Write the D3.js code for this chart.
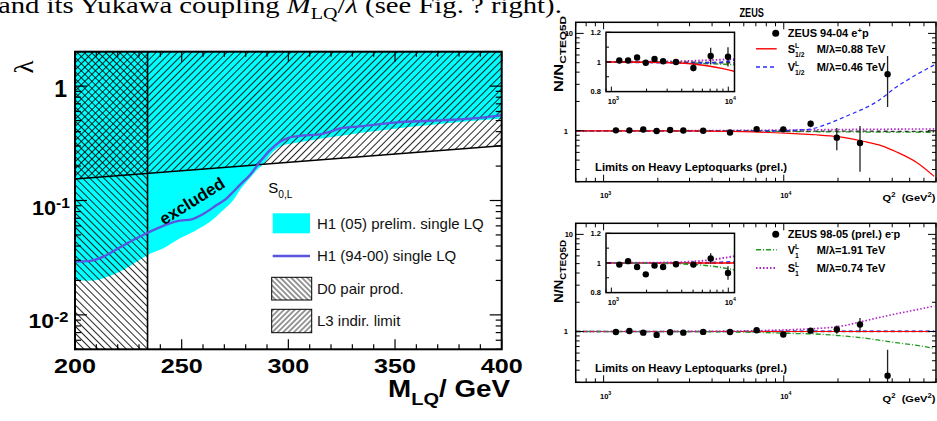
<!DOCTYPE html>
<html><head><meta charset="utf-8">
<script src="https://cdn.jsdelivr.net/npm/d3@7"></script>
<style>html,body{margin:0;padding:0;background:#fff;overflow:hidden}svg{display:block}</style>
</head><body>
<svg id="c" width="937" height="421"></svg>
<script>
// ---------------- LEFT PANEL DATA ----------------
const massTicks = [200, 250, 300, 350, 400];
const lambdaMajor = [0.01, 0.1, 1];
// H1 (05) prelim. single LQ : lower edge of excluded (cyan) region
const h1PrelimMass   = [200,207,213.3,221.1,228.9,234.1,241.4,249.2,257,263.3,269.5,274.2,277.3,282,285.3,288.6,292.3,296.6,303.9,311.6,319.5,335.1,350.8,366.4,382,397.7,400];
const h1PrelimLambda = [0.0202,0.0199,0.0209,0.0239,0.0292,0.0334,0.0382,0.0468,0.0553,0.0653,0.0826,0.101,0.1235,0.1572,0.1846,0.2113,0.26,0.2992,0.3197,0.3376,0.3564,0.394,0.4271,0.4565,0.488,0.5149,0.5201];
// H1 (94-00) single LQ limit line
const h1OldMass   = [200,207,213.3,221.1,228.9,234.1,244.5,249.2,254.7,260.1,266.4,271.1,274.2,277.3,282,286.7,291.4,296.1,300.7,305.5,314.8,319.5,324.2,335.1,342.8,350.8,366.4,382,397.7,400];
const h1OldLambda = [0.0292,0.0296,0.0323,0.039,0.0468,0.0523,0.0632,0.0666,0.0685,0.0762,0.0913,0.1045,0.1194,0.137,0.167,0.218,0.276,0.326,0.356,0.368,0.379,0.399,0.427,0.447,0.466,0.482,0.498,0.515,0.55,0.558];
// L3 indirect limit (excluded above)
const l3Mass = [200, 400];
const l3Lambda = [0.154, 0.301];
// D0 pair production (excluded below this mass)
const d0Mass = 234;
const legendLabels = ["H1 (05) prelim. single LQ", "H1 (94-00) single LQ", "D0 pair prod.", "L3 indir. limit"];

// ---------------- ZEUS DATA ----------------
const q2Bins = [1170,1390,1660,1970,2340,2770,3570,5030,7070,9940,14100,19700,26500,37700];
const ratioEplus  = [1.01,1.01,1.03,0.995,1.02,1.005,1.0,0.96,1.04,1.035,1.18,0.85,0.75,3.8];
const errEplus    = [0.012,0.012,0.013,0.013,0.014,0.015,0.016,0.025,0.055,0.065,0.09,0.22,0.37,2.05];
const ratioEminus = [0.989,1.012,0.973,0.923,0.982,0.973,0.991,0.989,1.03,0.932,1.02,1.05,1.18,0.35];
const errEminus   = [0.012,0.013,0.013,0.014,0.014,0.015,0.016,0.02,0.035,0.045,0.04,0.1,0.2,0.3];
// e+p panel curves
const sHalfQ2 = [700,2000,3500,5000,6800,9000,11500,15000,20000,27500,35000,42000,55000,68400];
const sHalfR  = [1.0,0.998,0.994,0.986,0.973,0.955,0.935,0.91,0.87,0.78,0.70,0.61,0.47,0.34];
const vHalfQ2 = [700,2000,5000,8000,11500,14000,18000,23200,29000,33000,42000,55000,68400];
const vHalfR  = [1.0,0.996,0.992,0.996,1.015,1.04,1.2,1.46,1.75,2.0,2.8,3.8,4.74];
const greenTopQ2 = [700,3000,6000,11500,20000,68400];
const greenTopR  = [1.0,0.998,0.99,0.982,0.975,0.965];
const magTopQ2 = [700,3000,6000,11500,20000,68400];
const magTopR  = [1.0,1.003,1.01,1.02,1.03,1.045];
const blackTopQ2 = [700,10000,68400];
const blackTopR  = [1.0,0.995,0.985];
// e-p panel curves
const sOneQ2 = [700,3000,5000,7000,9000,11500,14600,20500,28800,42000,55000,68400];
const sOneR  = [1.0,1.003,1.01,1.02,1.033,1.048,1.07,1.13,1.30,1.52,1.68,1.83];
const vOneQ2 = [700,3000,5000,7000,9000,11500,14600,20500,28800,42000,55000,68400];
const vOneR  = [1.0,0.997,0.99,0.98,0.968,0.952,0.945,0.905,0.85,0.767,0.72,0.671];
const redBotQ2 = [700,68400];
const redBotR  = [1.0,1.0];
const blueBotQ2 = [700,5000,11500,68400];
const blueBotR  = [1.0,1.0,1.008,1.012];
const blackBotQ2 = [700,68400];
const blackBotR  = [1.0,1.0];

// ---------------- HELPERS ----------------
const svg = d3.select('#c');
const defs = svg.append('defs');
const SANS = "'Liberation Sans', Arial, Helvetica, sans-serif";
const SERIF = "'Liberation Serif', 'DejaVu Serif', serif";

function txt(parent, x, y, parts, o) {
  o = o || {};
  const fsz = o.fs || 12;
  const g = parent.append('g').attr('transform', `translate(${x},${y})` + (o.rot ? ` rotate(${o.rot})` : ''));
  const inner = g.append('g');
  const t = inner.append('text')
    .attr('font-family', o.ff || SANS).attr('font-size', fsz)
    .attr('font-weight', o.fw || 'bold').attr('fill', o.fill || '#000')
    .attr('text-anchor', o.anchor || 'start');
  let cur = 0, lastW = 0;
  parts.forEach(p => {
    if (typeof p === 'string') p = { t: p };
    const s = t.append('tspan').text(p.t);
    let target = 0, f = fsz;
    if (p.s === 'sup') { target = -fsz * (p.up || 0.4); f = fsz * (p.k || 0.7); }
    else if (p.s === 'sub') { target = fsz * (p.down || 0.3); f = fsz * (p.k || 0.7); }
    s.attr('font-size', f).attr('dy', target - cur);
    if (p.it) s.attr('font-style', 'italic');
    if (p.stack) s.attr('dx', -lastW);
    cur = target;
    lastW = s.node().getComputedTextLength();
  });
  if (o.w) {
    const bw = t.node().getBBox().width;
    if (bw > 0) inner.attr('transform', `scale(${o.w / bw},1)`);
  }
  return g;
}
function hatch(id, angle, gap, sw) {
  const p = defs.append('pattern').attr('id', id).attr('patternUnits', 'userSpaceOnUse')
    .attr('width', gap).attr('height', gap).attr('patternTransform', `rotate(${angle})`);
  p.append('line').attr('x1', gap / 2).attr('y1', -1).attr('x2', gap / 2).attr('y2', gap + 1)
    .attr('stroke', '#000').attr('stroke-width', sw);
}
hatch('hR', 45, 5, 0.85);
hatch('hL', -45, 5, 0.85);
hatch('hRs', 45, 3.8, 0.8);
hatch('hLs', -45, 3.8, 0.8);
function logTicks(d0, d1) {
  const out = [];
  for (let e = Math.floor(Math.log10(d0)) - 1; e <= Math.ceil(Math.log10(d1)); e++)
    for (let k = 1; k <= 9; k++) { const v = k * Math.pow(10, e); if (v >= d0 * 0.999 && v <= d1 * 1.001) out.push({ v, major: k === 1 }); }
  return out;
}
function line(parent, x1, y1, x2, y2, sw, col) {
  return parent.append('line').attr('x1', x1).attr('y1', y1).attr('x2', x2).attr('y2', y2)
    .attr('stroke', col || '#000').attr('stroke-width', sw || 1);
}

// ---------------- TOP PAGE TEXT ----------------
txt(svg, -2, 13, ["and its Yukawa coupling ", { t: "M", it: true }, { t: "LQ", s: 'sub', down: 0.25 }, { t: "/" }, { t: "λ", it: true }, " (see Fig. ? right)."],
  { ff: SERIF, fw: 'normal', fs: 24, w: 564 });

// ---------------- LEFT PANEL ----------------
const L = { x0: 75, x1: 501.7, y0: 51.7, y1: 349.3 };
const xL = d3.scaleLinear().domain([200, 400]).range([L.x0, L.x1]);
const yL = d3.scaleLog().domain([0.005, 2]).range([L.y1, L.y0]);
defs.append('clipPath').attr('id', 'clipL').append('rect')
  .attr('x', L.x0).attr('y', L.y0).attr('width', L.x1 - L.x0).attr('height', L.y1 - L.y0);
const gL = svg.append('g').attr('clip-path', 'url(#clipL)');
const h1New = h1PrelimMass.map((m, i) => [m, h1PrelimLambda[i]]);
gL.append('path').datum(h1New)
  .attr('d', d3.area().x(d => xL(d[0])).y0(d => yL(d[1])).y1(yL(2)).curve(d3.curveMonotoneX))
  .attr('fill', '#00ffff');
const l3 = l3Mass.map((m, i) => [m, l3Lambda[i]]);
gL.append('path').datum(l3)
  .attr('d', d3.area().x(d => xL(d[0])).y0(d => yL(d[1])).y1(yL(2)))
  .attr('fill', 'url(#hR)');
gL.append('rect').attr('x', xL(200)).attr('y', yL(2)).attr('width', xL(d0Mass) - xL(200))
  .attr('height', yL(0.005) - yL(2)).attr('fill', 'url(#hL)');
gL.append('path').datum(l3).attr('d', d3.line().x(d => xL(d[0])).y(d => yL(d[1])))
  .attr('fill', 'none').attr('stroke', '#000').attr('stroke-width', 1.5);
line(gL, xL(d0Mass), yL(2), xL(d0Mass), yL(0.005), 1.6);
const h1Old = h1OldMass.map((m, i) => [m, h1OldLambda[i]]);
gL.append('path').datum(h1Old).attr('d', d3.line().x(d => xL(d[0])).y(d => yL(d[1])).curve(d3.curveMonotoneX))
  .attr('fill', 'none').attr('stroke', '#5a55e0').attr('stroke-width', 2.3);

// frame & ticks
svg.append('rect').attr('x', L.x0).attr('y', L.y0).attr('width', L.x1 - L.x0).attr('height', L.y1 - L.y0)
  .attr('fill', 'none').attr('stroke', '#000').attr('stroke-width', 2);
for (let m = 200; m <= 400; m += 10) {
  const major = m % 50 === 0, len = major ? 10 : 5, X = xL(m);
  line(svg, X, L.y1, X, L.y1 - len, 1.2);
  line(svg, X, L.y0, X, L.y0 + len, 1.2);
}
logTicks(0.005, 2).forEach(t => {
  const len = t.major ? 12 : 6, Y = yL(t.v);
  line(svg, L.x0, Y, L.x0 + len, Y, 1.2);
  line(svg, L.x1, Y, L.x1 - len, Y, 1.2);
});
massTicks.forEach(m => txt(svg, xL(m), 373, [String(m)], { fs: 21, anchor: 'middle', w: 42 }));
txt(svg, 67, yL(1) + 11, ["1"], { fs: 23, anchor: 'end' });
txt(svg, 70, yL(0.1) + 14, ["10", { t: "-1", s: 'sup', up: 0.32, k: 0.72 }], { fs: 21, anchor: 'end', w: 38 });
txt(svg, 68.5, yL(0.01) + 13.5, ["10", { t: "-2", s: 'sup', up: 0.32, k: 0.72 }], { fs: 21, anchor: 'end', w: 40 });
txt(svg, 510, 397, ["M", { t: "LQ", s: 'sub', down: 0.35, k: 0.72 }, "/ GeV"], { fs: 24, anchor: 'end', w: 122 });
txt(svg, 33, 67, ["λ"], { ff: SERIF, fw: 'normal', fs: 27, anchor: 'middle', rot: -90 });
// "excluded"
const ex = svg.append('g').attr('transform', 'translate(192,201) rotate(-32)');
ex.append('text').attr('x', 0).attr('y', 6).attr('text-anchor', 'middle').attr('font-family', SANS)
  .attr('font-weight', 'bold').attr('font-size', 17).text('excluded');
// legend
txt(svg, 268.3, 193.3, ["S", { t: "0,L", s: 'sub', down: 0.3, k: 0.68 }], { fs: 15, fw: 'normal' });
svg.append('rect').attr('x', 272.7).attr('y', 213.3).attr('width', 37.3).attr('height', 20).attr('fill', '#00ffff');
line(svg, 272.7, 256, 310, 256, 2.3, '#5a55e0');
svg.append('rect').attr('x', 271.7).attr('y', 277.3).attr('width', 40).attr('height', 22.7).attr('fill', 'url(#hLs)').attr('stroke', '#000').attr('stroke-width', 1);
svg.append('rect').attr('x', 271.7).attr('y', 309.3).attr('width', 40).attr('height', 23.4).attr('fill', 'url(#hRs)').attr('stroke', '#000').attr('stroke-width', 1);
[223.3, 256, 288.7, 321].forEach((cy, i) => txt(svg, 317, cy + 5.3, [legendLabels[i]], { fs: 15, fw: 'normal', fill: '#111' }));

// ---------------- ZEUS PANELS ----------------
txt(svg, 751.7, 16.7, ["ZEUS"], { fs: 13, anchor: 'middle', w: 24.7 });

const COL = { red: '#ff0000', blue: '#2a2aff', green: '#1f9a1f', mag: '#b020c8', black: '#333333' };
const curveTop = {
  red:   { q: sHalfQ2, r: sHalfR, color: COL.red, dash: null, w: 1.2 },
  blue:  { q: vHalfQ2, r: vHalfR, color: COL.blue, dash: '4,3', w: 1.2 },
  green: { q: greenTopQ2, r: greenTopR, color: COL.green, dash: '5,2,1,2', w: 1.3 },
  mag:   { q: magTopQ2, r: magTopR, color: COL.mag, dash: '1.5,2', w: 1.6 },
  black: { q: blackTopQ2, r: blackTopR, color: COL.black, dash: '4,3', w: 1.3 }
};
const curveBot = {
  red:   { q: redBotQ2, r: redBotR, color: COL.red, dash: null, w: 1.2 },
  blue:  { q: blueBotQ2, r: blueBotR, color: COL.blue, dash: '4,3', w: 1.2 },
  green: { q: vOneQ2, r: vOneR, color: COL.green, dash: '5,2,1,2', w: 1.3 },
  mag:   { q: sOneQ2, r: sOneR, color: COL.mag, dash: '1.5,2', w: 1.6 },
  black: { q: blackBotQ2, r: blackBotR, color: COL.black, dash: '4,3', w: 1.3 }
};
const panels = [
  { k: 0, y0: 22.3, y1: 181.7, ratio: ratioEplus, err: errEplus, curves: curveTop,
    order: ['mag', 'green', 'black', 'blue', 'red'],
    titleEnd: 16, titleLen: 76,
    legTitle: ["ZEUS 94-04 e", { t: "+", s: 'sup', up: 0.4 }, "p"],
    leg: [
      { c: 'red', lab: ["S", { t: "L", s: 'sup', up: 0.42, k: 0.62 }, { t: "1/2", s: 'sub', down: 0.35, k: 0.62, stack: true }], val: "M/λ=0.88 TeV" },
      { c: 'blue', lab: ["V", { t: "L", s: 'sup', up: 0.42, k: 0.62 }, { t: "1/2", s: 'sub', down: 0.35, k: 0.62, stack: true }], val: "M/λ=0.46 TeV" }
    ] },
  { k: 1, y0: 223.3, y1: 382.3, ratio: ratioEminus, err: errEminus, curves: curveBot,
    order: ['black', 'blue', 'red', 'green', 'mag'],
    titleEnd: 240, titleLen: 63,
    legTitle: ["ZEUS 98-05 (prel.) e", { t: "-", s: 'sup', up: 0.4 }, "p"],
    leg: [
      { c: 'green', lab: ["V", { t: "L", s: 'sup', up: 0.42, k: 0.62 }, { t: "1", s: 'sub', down: 0.35, k: 0.62, stack: true }], val: "M/λ=1.91 TeV" },
      { c: 'mag', lab: ["S", { t: "L", s: 'sup', up: 0.42, k: 0.62 }, { t: "1", s: 'sub', down: 0.35, k: 0.62, stack: true }], val: "M/λ=0.74 TeV" }
    ] }
];

function zeus(P) {
  const X0 = 575.7, X1 = 936;
  const x = d3.scaleLog().domain([700, 70000]).range([X0, X1]);
  const y = d3.scaleLog().domain([0.3, 13]).range([P.y1, P.y0]);
  const cid = 'clipZ' + P.k;
  defs.append('clipPath').attr('id', cid).append('rect').attr('x', X0).attr('y', P.y0).attr('width', X1 - X0).attr('height', P.y1 - P.y0);
  const g = svg.append('g').attr('clip-path', `url(#${cid})`);
  P.order.forEach(key => {
    const c = P.curves[key];
    g.append('path').datum(c.q.map((q, i) => [q, c.r[i]]))
      .attr('d', d3.line().x(d => x(d[0])).y(d => y(d[1])).curve(d3.curveMonotoneX))
      .attr('fill', 'none').attr('stroke', c.color).attr('stroke-width', c.w).attr('stroke-dasharray', c.dash);
  });
  q2Bins.forEach((q, i) => {
    const v = P.ratio[i], e = P.err[i];
    line(g, x(q), y(v + e), x(q), y(Math.max(v - e, 0.05)), 1.3, '#222');
    g.append('circle').attr('cx', x(q)).attr('cy', y(v)).attr('r', 3.2).attr('fill', '#000');
  });
  svg.append('rect').attr('x', X0).attr('y', P.y0).attr('width', X1 - X0).attr('height', P.y1 - P.y0)
    .attr('fill', 'none').attr('stroke', '#000').attr('stroke-width', 1.5);
  logTicks(700, 70000).forEach(t => {
    const len = t.major ? 7 : 4, X = x(t.v);
    line(svg, X, P.y1, X, P.y1 - len, 1);
    line(svg, X, P.y0, X, P.y0 + len, 1);
  });
  logTicks(0.3, 13).forEach(t => {
    const len = t.major ? 8 : 4, Y = y(t.v);
    line(svg, X0, Y, X0 + len, Y, 1);
    line(svg, X1, Y, X1 - len, Y, 1);
  });
  txt(svg, 573, y(10) + 2.8, ["10"], { fs: 7.5, anchor: 'end' });
  txt(svg, 568, y(1) + 2.8, ["1"], { fs: 7.5, anchor: 'end' });
  [1000, 10000].forEach((q, i) => txt(svg, x(q) + 2, P.y1 + 16.5, ["10", { t: String(3 + i), s: 'sup', up: 0.45 }], { fs: 7.5, anchor: 'middle' }));
  txt(svg, 935.5, P.y1 + 19.5, ["Q", { t: "2", s: 'sup', up: 0.45 }, "\u00a0\u00a0(GeV", { t: "2", s: 'sup', up: 0.45 }, ")"], { fs: 9.5, anchor: 'end', w: 53 });
  txt(svg, 563, P.titleEnd, ["N/N", { t: "CTEQ5D", s: 'sub', down: 0.28, k: 0.72 }], { fs: 12, anchor: 'end', rot: -90, w: P.titleLen });
  txt(svg, 595, P.y1 - 10.7, ["Limits on Heavy Leptoquarks (prel.)"], { fs: 11.3 });
  // legend
  const ly = [P.y0 + 11, P.y0 + 26.5, P.y0 + 44.7];
  svg.append('circle').attr('cx', 775.7).attr('cy', ly[0]).attr('r', 3.5).attr('fill', '#000');
  txt(svg, 787.7, ly[0] + 4, P.legTitle, { fs: 11 });
  P.leg.forEach((e, i) => {
    const c = P.curves[e.c];
    line(svg, 756, ly[i + 1], 776.7, ly[i + 1], c.w + 0.2, c.color).attr('stroke-dasharray', c.dash);
    txt(svg, 787.7, ly[i + 1] + 4, e.lab, { fs: 11 });
    txt(svg, 816.7, ly[i + 1] + 4, [e.val], { fs: 11 });
  });
  // inset
  const IX0 = 606, IX1 = 734.5, IY0 = P.y0 + 10, IY1 = P.y0 + 69.3;
  const xi = d3.scaleLog().domain([900, 11300]).range([IX0, IX1]);
  const yi = d3.scaleLinear().domain([0.8, 1.2]).range([IY1, IY0]);
  svg.append('rect').attr('x', IX0).attr('y', IY0).attr('width', IX1 - IX0).attr('height', IY1 - IY0).attr('fill', '#fff');
  const ciid = 'clipI' + P.k;
  defs.append('clipPath').attr('id', ciid).append('rect').attr('x', IX0).attr('y', IY0).attr('width', IX1 - IX0).attr('height', IY1 - IY0);
  const gi = svg.append('g').attr('clip-path', `url(#${ciid})`);
  P.order.forEach(key => {
    const c = P.curves[key];
    gi.append('path').datum(c.q.map((q, i) => [q, c.r[i]]))
      .attr('d', d3.line().x(d => xi(d[0])).y(d => yi(d[1])).curve(d3.curveMonotoneX))
      .attr('fill', 'none').attr('stroke', c.color).attr('stroke-width', c.w + 0.3).attr('stroke-dasharray', c.dash);
  });
  q2Bins.forEach((q, i) => {
    if (q > 11300) return;
    const v = P.ratio[i], e = P.err[i];
    line(gi, xi(q), yi(v + e), xi(q), yi(v - e), 1.3, '#222');
    gi.append('circle').attr('cx', xi(q)).attr('cy', yi(v)).attr('r', 3.2).attr('fill', '#000');
  });
  svg.append('rect').attr('x', IX0).attr('y', IY0).attr('width', IX1 - IX0).attr('height', IY1 - IY0)
    .attr('fill', 'none').attr('stroke', '#000').attr('stroke-width', 1.5);
  logTicks(900, 11300).forEach(t => {
    const len = t.major ? 5 : 3, X = xi(t.v);
    line(svg, X, IY1, X, IY1 - len, 1);
  });
  [0.8, 0.9, 1.0, 1.1, 1.2].forEach((v, i) => line(svg, IX0, yi(v), IX0 + (i % 2 === 0 ? 5 : 3), yi(v), 1));
  [[1.2, "1.2"], [1.0, "1"], [0.8, "0.8"]].forEach(d => txt(svg, 601, yi(d[0]) + 2.8, [d[1]], { fs: 7.5, anchor: 'end' }));
  [1000, 10000].forEach((q, i) => txt(svg, xi(q) + 2, IY1 + 12, ["10", { t: String(3 + i), s: 'sup', up: 0.45 }], { fs: 7.5, anchor: 'middle' }));
}
panels.forEach(zeus);
</script>
</body></html>
